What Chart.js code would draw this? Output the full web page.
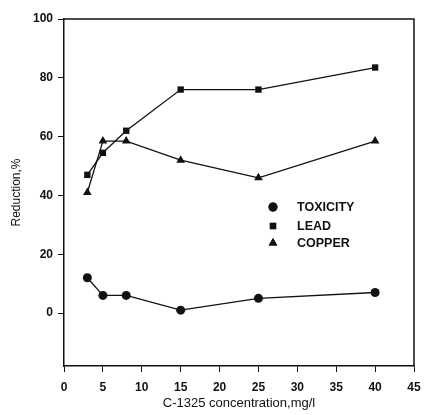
<!DOCTYPE html>
<html>
<head>
<meta charset="utf-8">
<script src="https://cdn.jsdelivr.net/npm/chart.js@4/dist/chart.umd.min.js"></script>
<style>
  html, body { margin: 0; padding: 0; background: #fff; }
</style>
</head>
<body>
<canvas id="chart" width="425" height="415"></canvas>
<script>
// concentrations (mg/l) and % reduction for each series
const concentration = [3, 5, 8, 15, 25, 40];
const toxicity = [12, 6, 6, 1, 5, 7];
const lead = [47, 54.5, 62, 76, 76, 83.5];
const copper = [41, 58.5, 58.5, 52, 46, 58.5];
const yTicks = [0, 20, 40, 60, 80, 100];
const xTicks = [0, 5, 10, 15, 20, 25, 30, 35, 40, 45];

const seriesNames = ['TOXICITY', 'LEAD', 'COPPER'];
const pointStyles = ['circle', 'rect', 'triangle'];

const FONT = '"Liberation Sans", Arial, sans-serif';

const toPoints = (vals) => vals.map((v, i) => ({ x: concentration[i], y: v }));

const makeSet = (label, vals, style, radius) => ({
  label: label,
  data: toPoints(vals),
  borderColor: '#111',
  backgroundColor: '#111',
  borderWidth: 1.3,
  pointStyle: style,
  pointRadius: radius,
  pointBorderWidth: 0,
  tension: 0,
});

// frame on top/right and the in-plot legend
const framePlugin = {
  id: 'frame',
  afterDraw(chart) {
    const { ctx, chartArea } = chart;
    ctx.save();
    ctx.strokeStyle = '#111';
    ctx.lineWidth = 1.5;
    ctx.beginPath();
    ctx.moveTo(chartArea.left, chartArea.top);
    ctx.lineTo(chartArea.right, chartArea.top);
    ctx.lineTo(chartArea.right, chartArea.bottom);
    ctx.stroke();

    const rows = [207, 226, 243];
    ctx.font = 'bold 12.5px ' + FONT;
    ctx.textBaseline = 'middle';
    chart.data.datasets.forEach((ds, i) => {
      Chart.helpers.drawPoint(ctx, {
        pointStyle: ds.pointStyle,
        radius: ds.pointRadius,
        borderWidth: 0,
        rotation: 0,
      }, 273, rows[i]);
      ctx.fillStyle = '#111';
      ctx.fill();
      ctx.fillText(ds.label, 297, rows[i] + 1);
    });
    ctx.restore();
  }
};

new Chart(document.getElementById('chart'), {
  type: 'line',
  data: {
    datasets: [
      makeSet(seriesNames[0], toxicity, pointStyles[0], 4.5),
      makeSet(seriesNames[1], lead, pointStyles[1], 4.5),
      makeSet(seriesNames[2], copper, pointStyles[2], 5),
    ]
  },
  options: {
    responsive: false,
    devicePixelRatio: 1,
    animation: false,
    layout: { padding: { top: 19, right: 11, left: 0, bottom: 0 } },
    plugins: {
      legend: { display: false },
      tooltip: { enabled: false },
    },
    scales: {
      x: {
        type: 'linear',
        min: 0,
        max: 45,
        afterBuildTicks: (s) => { s.ticks = xTicks.map(v => ({ value: v })); },
        afterFit: (s) => { s.height = 49; s.paddingLeft = 0; s.paddingRight = 0; },
        ticks: {
          color: '#111',
          font: { family: FONT, size: 12, weight: 'bold' },
          padding: 8,
          maxRotation: 0,
        },
        grid: { drawOnChartArea: false, tickLength: 6, color: '#111', lineWidth: 1 },
        border: { color: '#111', width: 1.5 },
        title: {
          display: true,
          text: 'C-1325 concentration,mg/l',
          color: '#111',
          font: { family: FONT, size: 13 },
          padding: { top: 7 },
        },
      },
      y: {
        type: 'linear',
        min: -18,
        max: 100,
        afterBuildTicks: (s) => { s.ticks = yTicks.map(v => ({ value: v })); },
        afterFit: (s) => { s.width = 64; },
        ticks: {
          color: '#111',
          font: { family: FONT, size: 12, weight: 'bold' },
          padding: 5,
        },
        grid: { drawOnChartArea: false, tickLength: 6, color: '#111', lineWidth: 1 },
        border: { color: '#111', width: 1.5 },
        title: {
          display: true,
          text: 'Reduction,%',
          color: '#111',
          font: { family: FONT, size: 12 },
          padding: { top: 9, bottom: 4 },
        },
      },
    },
  },
  plugins: [framePlugin],
});
</script>
</body>
</html>
